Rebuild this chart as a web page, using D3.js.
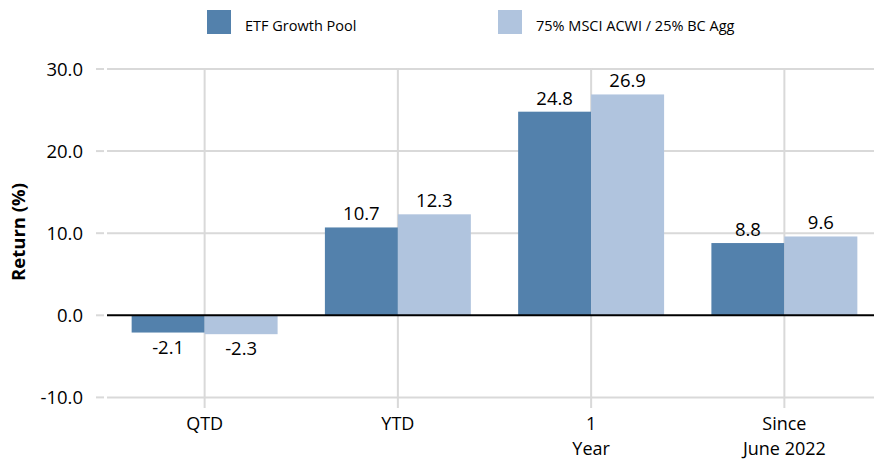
<!DOCTYPE html>
<html>
<head>
<meta charset="utf-8">
<script src="https://cdn.jsdelivr.net/npm/d3@7"></script>
<style>
  html, body { margin: 0; padding: 0; background: #fff; }
  svg { display: block; font-family: "Open Sans", sans-serif; }
</style>
</head>
<body>
<div id="chart"></div>
<script>
// ---- data ----
const categories = ["QTD", "YTD", "1 Year", "Since June 2022"];
const categoryLines = [["QTD"], ["YTD"], ["1", "Year"], ["Since", "June 2022"]];
const seriesNames = ["ETF Growth Pool", "75% MSCI ACWI / 25% BC Agg"];
const etfGrowthPool = [-2.1, 10.7, 24.8, 8.8];
const benchmark = [-2.3, 12.3, 26.9, 9.6];
const yTicks = [-10, 0, 10, 20, 30];
const yTitle = "Return (%)";

// ---- styles ----
const colors = ["#5381ac", "#b0c4de"];
const gridColor = "#d9d9d9";

const fmt = d3.formatLocale({ decimal: ".", thousands: ",", grouping: [3], currency: ["", ""], minus: "-" }).format(".1f");

const W = 874, H = 459;
const svg = d3.select("#chart").append("svg").attr("width", W).attr("height", H);

const x0 = d3.scaleBand().domain(categories).range([108, 881]).paddingInner(0).paddingOuter(0);
const x1 = d3.scaleBand().domain(seriesNames).range([0, x0.bandwidth()]).paddingInner(0).paddingOuter(0.324);
const y = d3.scaleLinear().domain([-10, 30]).range([397.4, 69]);

const values = [etfGrowthPool, benchmark];
const rows = categories.map((c, i) => ({ cat: c, i, vals: seriesNames.map((s, k) => ({ s, k, v: values[k][i] })) }));

// horizontal gridlines
svg.append("g").selectAll("line").data(yTicks.filter(t => t !== 0)).join("line")
  .attr("x1", 107).attr("x2", W)
  .attr("y1", d => y(d)).attr("y2", d => y(d))
  .attr("stroke", gridColor).attr("stroke-width", 2);

// y tick marks
svg.append("g").selectAll("line").data(yTicks).join("line")
  .attr("x1", 96).attr("x2", 104)
  .attr("y1", d => y(d)).attr("y2", d => y(d))
  .attr("stroke", gridColor).attr("stroke-width", 2);

// vertical gridlines at category centers
svg.append("g").selectAll("line").data(categories).join("line")
  .attr("x1", d => x0(d) + x0.bandwidth() / 2).attr("x2", d => x0(d) + x0.bandwidth() / 2)
  .attr("y1", 68).attr("y2", 408)
  .attr("stroke", gridColor).attr("stroke-width", 2);

// y tick labels
svg.append("g").selectAll("text").data(yTicks).join("text")
  .attr("x", 83).attr("y", d => y(d)).attr("dy", "0.36em")
  .attr("text-anchor", "end").attr("font-size", 18.5).attr("fill", "#000")
  .text(d => fmt(d));

// bars
const groups = svg.append("g").selectAll("g").data(rows).join("g")
  .attr("transform", d => `translate(${x0(d.cat)},0)`);

groups.selectAll("rect").data(d => d.vals).join("rect")
  .attr("x", d => x1(d.s)).attr("width", x1.bandwidth())
  .attr("y", d => y(Math.max(0, d.v)))
  .attr("height", d => Math.abs(y(d.v) - y(0)))
  .attr("fill", d => colors[d.k]);

groups.selectAll("text").data(d => d.vals).join("text")
  .attr("x", d => x1(d.s) + x1.bandwidth() / 2)
  .attr("y", d => d.v >= 0 ? y(d.v) - 7 : y(d.v) + 21)
  .attr("text-anchor", "middle").attr("font-size", 18.5).attr("fill", "#000")
  .text(d => fmt(d.v));

// zero line
svg.append("line")
  .attr("x1", 107).attr("x2", W).attr("y1", y(0)).attr("y2", y(0))
  .attr("stroke", "#000").attr("stroke-width", 2);

// x labels
const xl = svg.append("g").selectAll("text").data(categories).join("text")
  .attr("text-anchor", "middle").attr("font-size", 18).attr("fill", "#000");
xl.each(function(d, i) {
  const cx = x0(d) + x0.bandwidth() / 2;
  d3.select(this).selectAll("tspan").data(categoryLines[i]).join("tspan")
    .attr("x", cx).attr("y", (t, j) => 430 + j * 24.5).text(t => t);
});

// y title
svg.append("text")
  .attr("transform", `translate(25,232) rotate(-90)`)
  .attr("text-anchor", "middle").attr("font-size", 18.5).attr("font-weight", "bold").attr("fill", "#000")
  .text(yTitle);

// legend
const legendX = [207, 498];
const leg = svg.append("g").selectAll("g").data(seriesNames).join("g")
  .attr("transform", (d, i) => `translate(${legendX[i]},10)`);
leg.append("rect").attr("width", 24).attr("height", 24).attr("fill", (d, i) => colors[i]);
leg.append("text").attr("x", 38).attr("y", 21).attr("font-size", 14.5).attr("fill", "#000").text(d => d);
</script>
</body>
</html>
